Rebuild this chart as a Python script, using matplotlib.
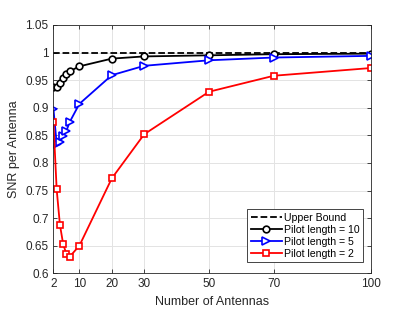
import numpy as np
import matplotlib
matplotlib.use("Agg")
import matplotlib.pyplot as plt

plt.rcParams['font.family'] = ['Liberation Sans', 'DejaVu Sans']

# Number of antennas (x) and SNR per antenna for each pilot length
antennas = [2, 3, 4, 5, 6, 7, 10, 20, 30, 50, 70, 100]
snr_pilot10 = [0.937, 0.937, 0.945, 0.953, 0.961, 0.966, 0.975, 0.989, 0.993, 0.995, 0.997, 0.998]
snr_pilot5 = [0.898, 0.835, 0.838, 0.848, 0.858, 0.874, 0.907, 0.959, 0.976, 0.986, 0.991, 0.994]
snr_pilot2 = [0.874, 0.752, 0.688, 0.653, 0.635, 0.630, 0.650, 0.772, 0.852, 0.929, 0.958, 0.972]
upper_bound = 1.0

xticks = [2, 10, 20, 30, 50, 70, 100]
yticks = np.round(np.arange(0.6, 1.0501, 0.05), 2)

fig = plt.figure(figsize=(4.11, 3.12), dpi=100)
ax = fig.add_axes([0.130, 0.124, 0.773, 0.796])

ax.plot([2, 100], [upper_bound, upper_bound], 'k--', lw=1.3, label='Upper Bound')
ax.plot(antennas, snr_pilot10, '-o', color='black', lw=1.3, ms=4.8,
        mfc='white', mew=1.2, label='Pilot length = 10')
ax.plot(antennas, snr_pilot5, '->', color='blue', lw=1.3, ms=5.2,
        mfc='white', mew=1.2, label='Pilot length = 5')
ax.plot(antennas, snr_pilot2, '-s', color='red', lw=1.3, ms=3.8,
        mfc='white', mew=1.2, label='Pilot length = 2')

ax.set_xlim(2, 100)
ax.set_ylim(0.6, 1.05)
ax.set_xticks(xticks)
ax.set_xticklabels([str(t) for t in xticks])
ax.set_yticks(yticks)
ax.set_yticklabels([('%g' % t) for t in yticks])
ax.grid(True, color='#e3e3e3', lw=0.7)
ax.set_axisbelow(True)
ax.tick_params(direction='in', top=True, right=True, labelsize=8.5,
               colors='#262626', length=3, width=0.6)
for s in ax.spines.values():
    s.set_color('#262626')
    s.set_linewidth(0.6)

ax.set_xlabel('Number of Antennas', fontsize=9, color='#262626')
ax.set_ylabel('SNR per Antenna', fontsize=9, color='#262626')

leg = ax.legend(loc='lower right', bbox_to_anchor=(0.975, 0.045), fontsize=7.6,
                frameon=True, fancybox=False, framealpha=1,
                edgecolor='#262626', handlelength=3.0, borderpad=0.3,
                labelspacing=0.2, handletextpad=0.2, borderaxespad=0.0)
leg.get_frame().set_linewidth(0.6)

fig.savefig('out.png', dpi=100)
